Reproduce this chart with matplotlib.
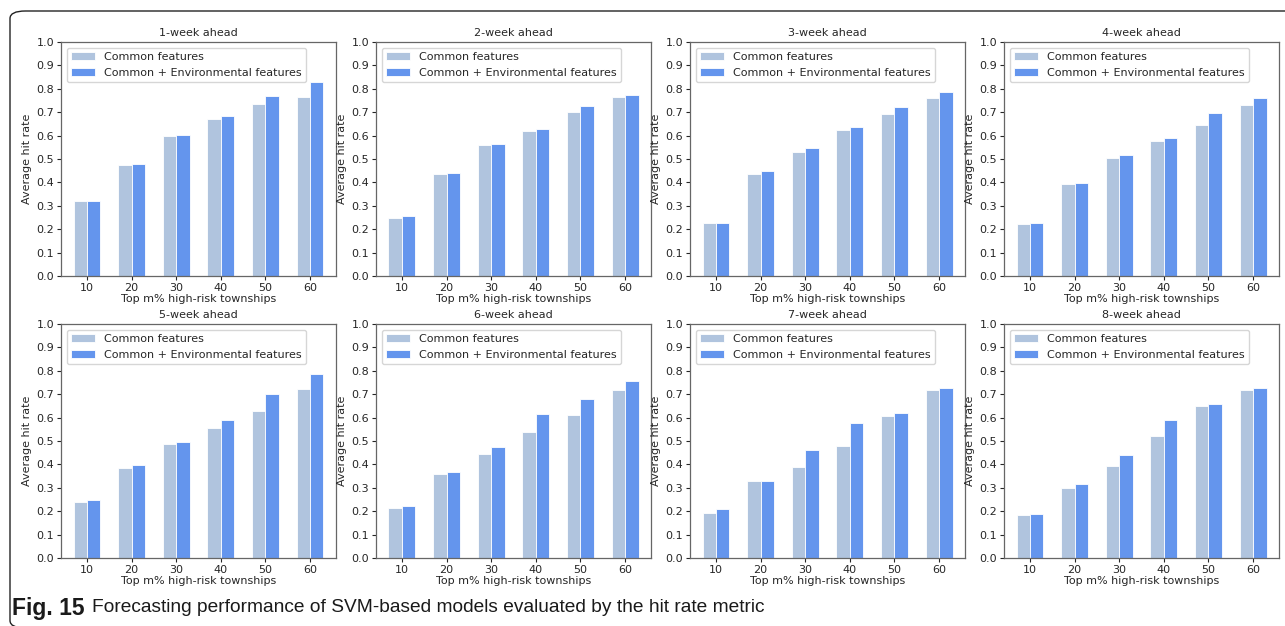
import matplotlib
matplotlib.use("Agg")
import matplotlib.pyplot as plt
import numpy as np
from matplotlib.patches import FancyBboxPatch

# values
groups = ["10", "20", "30", "40", "50", "60"]
titles = ["1-week ahead", "2-week ahead", "3-week ahead", "4-week ahead",
          "5-week ahead", "6-week ahead", "7-week ahead", "8-week ahead"]

common_w1 = [0.320, 0.475, 0.598, 0.673, 0.735, 0.767]
env_w1 = [0.322, 0.480, 0.601, 0.682, 0.768, 0.827]
common_w2 = [0.247, 0.438, 0.561, 0.618, 0.700, 0.765]
env_w2 = [0.256, 0.442, 0.563, 0.629, 0.727, 0.774]
common_w3 = [0.228, 0.435, 0.532, 0.625, 0.691, 0.762]
env_w3 = [0.228, 0.447, 0.546, 0.638, 0.722, 0.788]
common_w4 = [0.222, 0.393, 0.505, 0.575, 0.647, 0.732]
env_w4 = [0.227, 0.397, 0.517, 0.588, 0.698, 0.761]
common_w5 = [0.240, 0.386, 0.487, 0.556, 0.628, 0.721]
env_w5 = [0.248, 0.396, 0.494, 0.590, 0.700, 0.787]
common_w6 = [0.213, 0.359, 0.443, 0.539, 0.612, 0.720]
env_w6 = [0.223, 0.367, 0.474, 0.614, 0.681, 0.758]
common_w7 = [0.193, 0.327, 0.390, 0.477, 0.606, 0.717]
env_w7 = [0.208, 0.328, 0.461, 0.577, 0.621, 0.728]
common_w8 = [0.183, 0.300, 0.393, 0.521, 0.648, 0.716]
env_w8 = [0.188, 0.318, 0.440, 0.588, 0.658, 0.727]

common_all = [common_w1, common_w2, common_w3, common_w4,
              common_w5, common_w6, common_w7, common_w8]
env_all = [env_w1, env_w2, env_w3, env_w4, env_w5, env_w6, env_w7, env_w8]

W, H = 1285, 626
fig = plt.figure(figsize=(W / 100, H / 100), dpi=100)

txt = "#262626"
fs = 8
lefts = [61, 376, 690, 1004]
tops = [42, 324]
aw, ah = 275, 234
bw = 0.3
x = np.arange(len(groups))

for k in range(8):
    r, c = divmod(k, 4)
    ax = fig.add_axes([lefts[c] / W, 1 - (tops[r] + ah) / H, aw / W, ah / H])
    ax.bar(x - bw / 2, common_all[k], bw, color="lightsteelblue",
           edgecolor="white", linewidth=0.6, label="Common features")
    ax.bar(x + bw / 2, env_all[k], bw, color="cornflowerblue",
           edgecolor="white", linewidth=0.6, label="Common + Environmental features")
    ax.set_ylim(0, 1.0)
    ax.set_yticks(np.arange(0, 1.01, 0.1))
    ax.set_xticks(x)
    ax.set_xticklabels(groups)
    ax.tick_params(labelsize=fs, colors=txt, length=3, pad=1.8)
    for s in ax.spines.values():
        s.set_color("#666666")
        s.set_linewidth(0.9)
    ax.set_title(titles[k], fontsize=fs, color=txt, pad=4)
    ax.set_xlabel("Top m% high-risk townships", fontsize=fs, color=txt, labelpad=1)
    ax.set_ylabel("Average hit rate", fontsize=fs, color=txt, labelpad=3)
    leg = ax.legend(loc="upper left", fontsize=fs, handlelength=2.2)
    for t in leg.get_texts():
        t.set_color(txt)

# rounded frame around the figure
frame = FancyBboxPatch((10 / W, -2 / H), 1.2, (H - 11 + 2) / H,
                       boxstyle="round,pad=0,rounding_size=0.012",
                       transform=fig.transFigure, fill=False,
                       edgecolor="#222222", linewidth=1.0, clip_on=False)
fig.patches.append(frame)

cap_y = 1 - 608 / H
t1 = fig.text(12 / W, cap_y, "Fig. 15", fontsize=16.5, fontweight="bold",
              family="Liberation Sans", color="#1a1a1a", va="center")
renderer = fig.canvas.get_renderer()
x_end = t1.get_window_extent(renderer).x1
fig.text((x_end + 8) / W, cap_y,
         "Forecasting performance of SVM-based models evaluated by the hit rate metric",
         fontsize=13.8, family="Liberation Sans", color="#1a1a1a", va="center")

fig.savefig("out.png", dpi=100)
